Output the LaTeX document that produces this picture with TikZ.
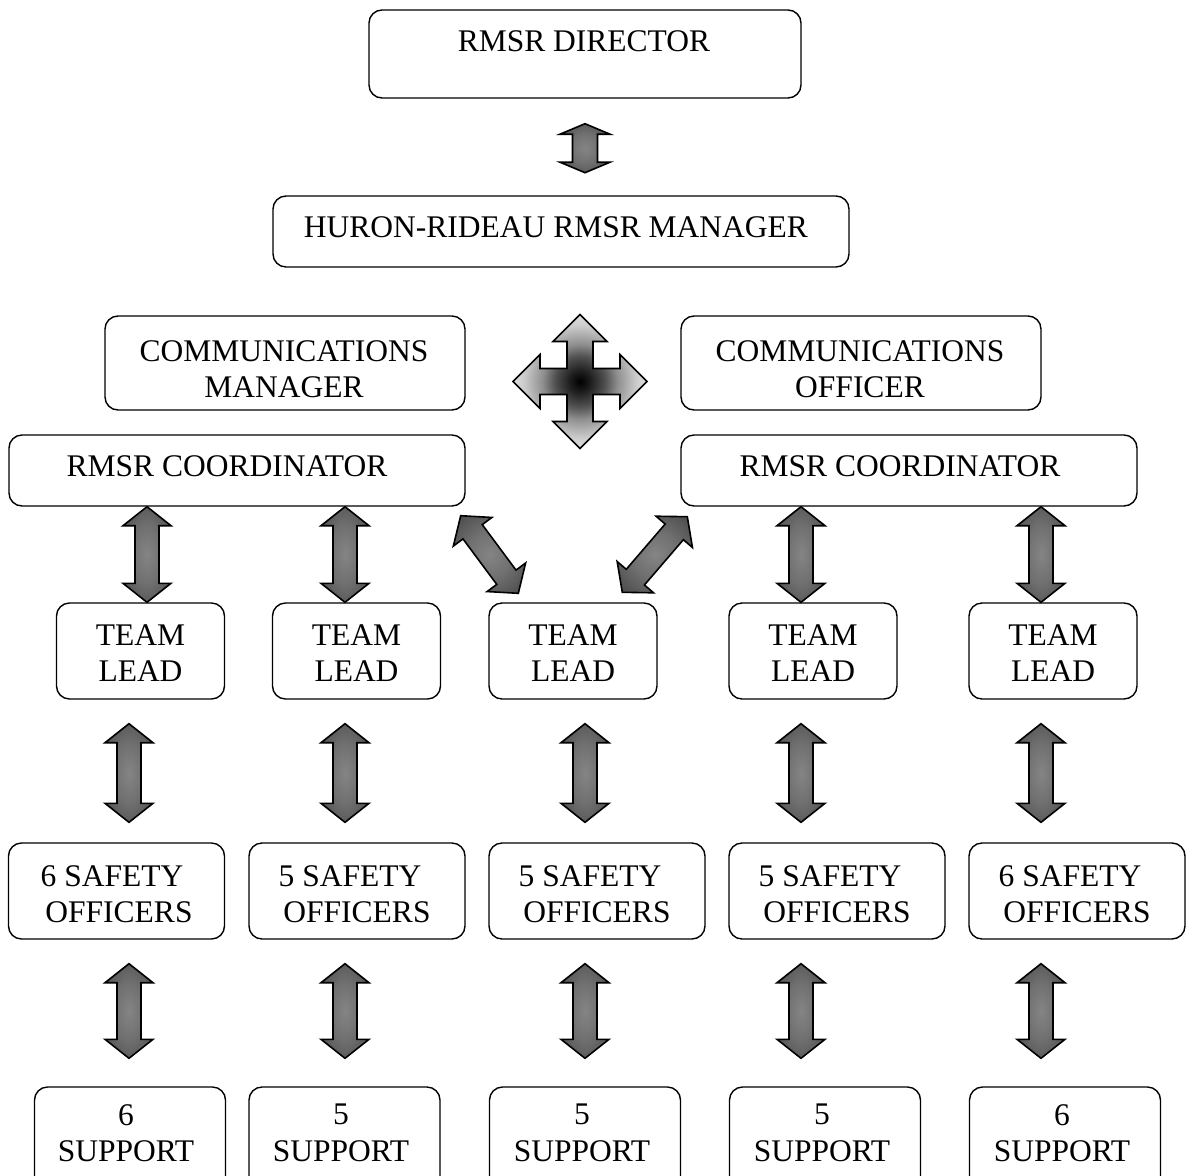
\documentclass[tikz,border=0pt]{standalone}
\usepackage{fontspec}
\setmainfont{Liberation Serif}
\usetikzlibrary{calc}
\pgfdeclareradialshading{barshade}{\pgfpoint{0bp}{0bp}}{color(0bp)=(black!48); color(15bp)=(black!56); color(30bp)=(black!68); color(42bp)=(black!77); color(50bp)=(black!80)}
\pgfdeclareradialshading{hubshade}{\pgfpoint{0bp}{0bp}}{color(0bp)=(black); color(4bp)=(black!88); color(9.5bp)=(black!68); color(14bp)=(black!44); color(21bp)=(black!20); color(29bp)=(black!5); color(35bp)=(white); color(50bp)=(white)}
\tikzset{
  box/.style={draw=black, line width=1.4pt, rounded corners=13pt, inner sep=0pt},
  txt/.style={font=\fontsize{31.5}{36.5}\selectfont, align=center, inner sep=0pt},
  blockarr/.style={draw=black, line width=1.6pt, line join=miter, shading=barshade},
  hubarr/.style={draw=black, line width=1.6pt, line join=miter, shading=hubshade},
}
% #1 start, #2 end, #3 head length, #4 head half width, #5 shaft half width
\newcommand\blockarrow[5]{%
  \coordinate (ba) at (#1);
  \coordinate (bb) at (#2);
  \coordinate (bh1) at ($(ba)!#3!(bb)$);
  \coordinate (bh2) at ($(bb)!#3!(ba)$);
  \shade[blockarr] (ba) -- ($(bh1)!#4!90:(bb)$) -- ($(bh1)!#5!90:(bb)$)
    -- ($(bh2)!#5!-90:(ba)$) -- ($(bh2)!#4!-90:(ba)$) -- (bb)
    -- ($(bh2)!#4!90:(ba)$) -- ($(bh2)!#5!90:(ba)$)
    -- ($(bh1)!#5!-90:(bb)$) -- ($(bh1)!#4!-90:(bb)$) -- cycle;
}
\begin{document}
\begin{tikzpicture}[x=1pt, y=-1pt]
\path[use as bounding box] (0,0) rectangle (1187,1176);
\clip (0,0) rectangle (1187,1176);

% boxes
\node[box, minimum width=432pt, minimum height=88pt] (dir) at (585,54) {};
\node[box, minimum width=576pt, minimum height=71pt] (hur) at (561,231.5) {};
\node[box, minimum width=360pt, minimum height=94pt] (cm) at (285,363) {};
\node[box, minimum width=360pt, minimum height=94pt] (co) at (861,363) {};
\node[box, minimum width=456pt, minimum height=71pt] (cl) at (237,470.5) {};
\node[box, minimum width=456pt, minimum height=71pt] (cr) at (909,470.5) {};

\foreach \n/\x in {1/140.5,2/356.5,3/573,4/813,5/1053}
  \node[box, minimum width=168pt, minimum height=96pt] (t\n) at (\x,651) {};
\foreach \n/\x in {1/116.5,2/357,3/597,4/837,5/1077}
  \node[box, minimum width=216pt, minimum height=96pt] (s\n) at (\x,891) {};
\foreach \n/\x in {1/130,2/344.5,3/585,4/825,5/1065}
  \node[box, minimum width=191pt, minimum height=108pt] (p\n) at (\x,1141) {};

% texts
\node[txt] (dirT) at (584,41.5) {RMSR DIRECTOR};
\node[txt] (hurT) at (556,227) {HURON-RIDEAU RMSR MANAGER};
\node[txt] (cmT) at (284,369) {COMMUNICATIONS\\MANAGER};
\node[txt] (coT) at (860,369) {COMMUNICATIONS\\OFFICER};
\node[txt] (clT) at (227,466) {RMSR COORDINATOR};
\node[txt] (crT) at (900,466) {RMSR COORDINATOR};
\foreach \n/\x in {1/140.5,2/356.5,3/573,4/813,5/1053}
  \node[txt] (tT\n) at (\x,653) {TEAM\\LEAD};
\foreach \n/\x/\k in {1/119/6,2/357/5,3/597/5,4/837/5,5/1077/6}
  \node[txt] (sT\n) at (\x,894) {\k\ SAFETY\hspace*{14pt}\\OFFICERS};
\foreach \n/\x/\k in {1/126/6,2/341/5,3/582/5,4/822/5,5/1062/6}
  \node[txt] (pT\n) at (\x,1133) {\k\\SUPPORT};

% top arrow
\blockarrow{$(dir.south)+(0,25)$}{$(dir.south)+(0,74)$}{10.5pt}{25pt}{12.5pt}

% four-way arrow
\coordinate (hub) at (580,381.5);
\shade[hubarr, shift={(hub)}]
  (0,-67) -- (27,-40) -- (13,-40) -- (13,-13) -- (40,-13) -- (40,-27) -- (67,0)
  -- (40,27) -- (40,13) -- (13,13) -- (13,40) -- (27,40) -- (0,67)
  -- (-27,40) -- (-13,40) -- (-13,13) -- (-40,13) -- (-40,27) -- (-67,0)
  -- (-40,-27) -- (-40,-13) -- (-13,-13) -- (-13,-40) -- (-27,-40) -- cycle;

% coordinators to team leads
\blockarrow{147,0 |- cl.south}{147,0 |- t1.north}{19pt}{24pt}{12pt}
\blockarrow{345,0 |- cl.south}{345,0 |- t2.north}{19pt}{24pt}{12pt}
\blockarrow{801,0 |- cr.south}{801,0 |- t4.north}{19pt}{24pt}{12pt}
\blockarrow{1041,0 |- cr.south}{1041,0 |- t5.north}{19pt}{24pt}{12pt}
\blockarrow{$(cl.south east)+(-5,9)$}{$(t3.north west)+(30,-9)$}{20pt}{24pt}{12pt}
\blockarrow{$(cr.south west)+(7,10)$}{$(t3.north west)+(134,-10)$}{20pt}{24pt}{12pt}

% team leads to safety officers, safety officers to support
\foreach \n/\x in {1/129,2/345,3/585,4/801,5/1041}{
  \blockarrow{$(\x,0 |- t\n.south)+(0,24)$}{$(\x,0 |- s\n.north)+(0,-20)$}{19pt}{24pt}{12pt}
  \blockarrow{$(\x,0 |- s\n.south)+(0,24)$}{$(\x,0 |- p\n.north)+(0,-28)$}{19pt}{24pt}{12pt}
}
\end{tikzpicture}
\end{document}
